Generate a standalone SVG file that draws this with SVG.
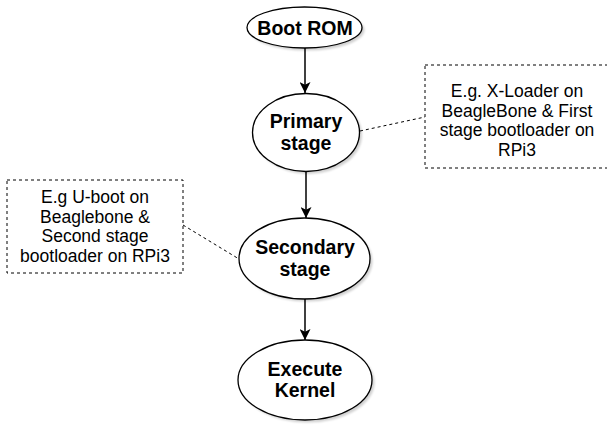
<svg xmlns="http://www.w3.org/2000/svg" width="607" height="426" viewBox="0 0 607 426">
<style>
.node{fill:#fff;stroke:#000;stroke-width:1.3}
.shadow{fill:#000;opacity:0.18}
.t{font-family:"Liberation Sans",Arial,sans-serif;font-weight:bold;font-size:19.5px;text-anchor:middle;fill:#000}
.n{font-family:"Liberation Sans",Arial,sans-serif;font-size:17.5px;text-anchor:middle;fill:#000}
.note{fill:#fff;stroke:#000;stroke-width:1;stroke-dasharray:3 3}
.edge{stroke:#000;stroke-width:1.5;fill:none}
.dash{stroke:#000;stroke-width:1;fill:none;stroke-dasharray:3 3}
</style>
<defs>
<marker id="arr" viewBox="0 0 10 10" refX="10" refY="5" markerWidth="11" markerHeight="11" markerUnits="userSpaceOnUse" orient="auto">
<path d="M0,0 L10,5 L0,10 L2.5,5 Z" fill="#000"/>
</marker>
<filter id="blur" x="-10%" y="-10%" width="130%" height="130%"><feGaussianBlur stdDeviation="1.2"/></filter>
</defs>
<rect width="607" height="426" fill="#fff"/>
<g id="connectors">
<line class="edge" x1="305" y1="48" x2="305" y2="93" marker-end="url(#arr)"/>
<line class="edge" x1="306" y1="172" x2="306" y2="218" marker-end="url(#arr)"/>
<line class="edge" x1="305" y1="299" x2="305" y2="340" marker-end="url(#arr)"/>
<line class="dash" x1="360" y1="131" x2="425" y2="117"/>
<line class="dash" x1="183" y1="225" x2="239" y2="259"/>
</g>
<g id="boot-rom">
<ellipse class="shadow" cx="307" cy="30" rx="57.5" ry="20.5" filter="url(#blur)"/>
<ellipse class="node" cx="304.5" cy="27.5" rx="57.5" ry="20.5"/>
<text class="t" x="305" y="34.5">Boot ROM</text>
</g>
<g id="primary-stage">
<ellipse class="shadow" cx="308.5" cy="135" rx="53.5" ry="39" filter="url(#blur)"/>
<ellipse class="node" cx="306" cy="132.5" rx="53.5" ry="39"/>
<text class="t" x="306" y="128">Primary</text>
<text class="t" x="306" y="150">stage</text>
</g>
<g id="secondary-stage">
<ellipse class="shadow" cx="307" cy="261" rx="65.5" ry="40.5" filter="url(#blur)"/>
<ellipse class="node" cx="304.5" cy="258.5" rx="65.5" ry="40.5"/>
<text class="t" x="305" y="254">Secondary</text>
<text class="t" x="305" y="276">stage</text>
</g>
<g id="execute-kernel">
<ellipse class="shadow" cx="307.5" cy="382.5" rx="67" ry="40" filter="url(#blur)"/>
<ellipse class="node" cx="305" cy="380" rx="67" ry="40"/>
<text class="t" x="305" y="375.5">Execute</text>
<text class="t" x="305" y="397">Kernel</text>
</g>
<g id="note-primary">
<rect class="note" x="425" y="65" width="184" height="103"/>
<text class="n" x="517" y="97">E.g. X-Loader on</text>
<text class="n" x="517" y="116.5">BeagleBone &amp; First</text>
<text class="n" x="517" y="136">stage bootloader on</text>
<text class="n" x="517" y="155.5">RPi3</text>
</g>
<g id="note-secondary">
<rect class="note" x="7" y="180" width="176" height="93"/>
<text class="n" x="95" y="203">E.g U-boot on</text>
<text class="n" x="95" y="222.5">Beaglebone &amp;</text>
<text class="n" x="95" y="242">Second stage</text>
<text class="n" x="95" y="261.5">bootloader on RPi3</text>
</g>
</svg>
